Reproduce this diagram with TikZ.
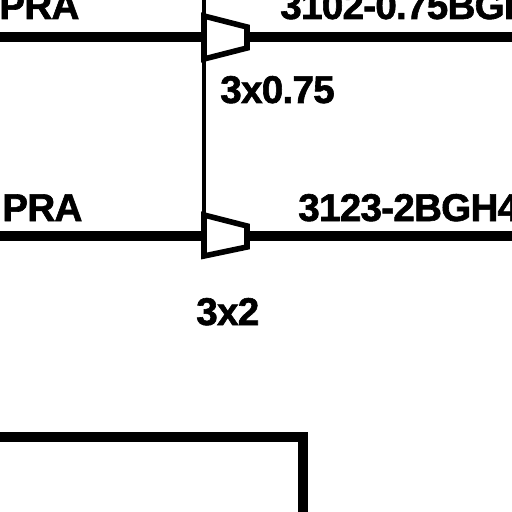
\documentclass[tikz,border=0pt]{standalone}
\usepackage{fontspec}
\setmainfont{Liberation Sans}
\newfontfamily\lblfont[FakeBold=1.6,LetterSpace=-2]{Liberation Sans Bold}
\usepackage{tikz}
\usetikzlibrary{shapes,arrows}

\tikzset{
    lbl/.style={anchor=base west,inner sep=0pt,font=\lblfont\fontsize{27.5}{30}\selectfont},
    bus/.style={line width=2.6mm},
    ctrl/.style={line width=0.8mm},
    amp/.style={line width=1.4mm,line join=miter,fill=white}
}

\begin{document}
\begin{tikzpicture}[x=0.025cm,y=-0.025cm]
    \pgfmathsetmacro{\xa}{204}
    \pgfmathsetmacro{\xb}{247}
    \useasboundingbox (0,0) rectangle (512,512);
    \clip (0,0) rectangle (512,512);

    % Draw the wires
    \coordinate (inA) at (-5,37);
    \coordinate (ampAin) at (\xa,37);
    \coordinate (ampAout) at (\xb,37);
    \coordinate (outA) at (520,37);
    \coordinate (inB) at (-5,236);
    \coordinate (ampBin) at (\xa,236);
    \coordinate (ampBout) at (\xb,236);
    \coordinate (outB) at (520,236);
    \coordinate (ctrlTop) at (\xa,-5);
    \coordinate (ctrlBot) at (\xa,258);
    \draw [bus] (inA) -- (ampAin);
    \draw [bus] (ampAout) -- (outA);
    \draw [bus] (inB) -- (ampBin);
    \draw [bus] (ampBout) -- (outB);
    \draw [ctrl] (ctrlTop) -- (ctrlBot);

    % Draw the two trapezoids
    \draw [amp] (\xa,16) -- (\xb,27) -- (\xb,48) -- (\xa,59) -- cycle;
    \draw [amp] (\xa,215) -- (\xb,226) -- (\xb,247) -- (\xa,256) -- cycle;

    % Labels
    \node [lbl] (prA) at (-1,19) {PRA};
    \node [lbl] (prB) at (2,221) {PRA};
    \node [lbl] (partA) at (280,19) {3102-0.75BGH};
    \node [lbl] (partB) at (298,221) {3123-2BGH4};
    \node [lbl] (sizeA) at (220,103) {3x0.75};
    \node [lbl] (sizeB) at (196,325) {3x2};

    % Box at the bottom
    \draw [line width=2.4mm] (-5,437) -- (303,437) -- (303,520);
\end{tikzpicture}
\end{document}
